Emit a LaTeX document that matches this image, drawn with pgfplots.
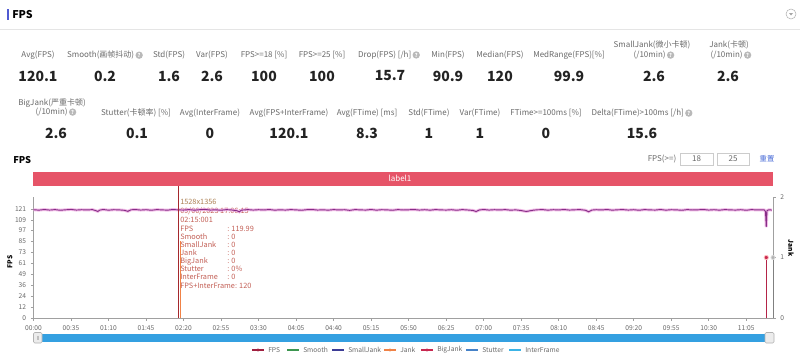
\documentclass[border=0pt]{standalone}
\usepackage{pgfplots}
\usepackage{pgfplotstable}
\pgfplotsset{compat=1.18}
\usepackage{fontspec}
\setmainfont{Noto Sans CJK SC}
\definecolor{lblgray}{RGB}{105,105,105}
\definecolor{valblack}{RGB}{35,35,35}
\definecolor{barred}{RGB}{230,84,104}
\definecolor{fpsline}{RGB}{135,45,135}
\definecolor{fpshalo}{RGB}{238,170,225}
\definecolor{scrollblue}{RGB}{52,160,225}
\definecolor{axgray}{RGB}{160,160,160}
\definecolor{tipred}{RGB}{195,95,85}
\definecolor{cursorred}{RGB}{165,40,45}
\definecolor{headblue}{RGB}{80,90,210}
\definecolor{linkblue}{RGB}{70,105,215}
\definecolor{smoothgreen}{RGB}{60,150,80}
\definecolor{smalljank}{RGB}{60,60,150}
\definecolor{jankorange}{RGB}{240,130,70}
\definecolor{bigjank}{RGB}{200,40,80}
\definecolor{stutter}{RGB}{70,130,200}
\definecolor{interframe}{RGB}{60,180,230}

\newcommand{\lab}[1]{{\fontsize{6}{7.5}\selectfont\color{lblgray}#1}}
\newcommand{\val}[1]{{\fontsize{10.5}{12}\selectfont\bfseries\color{valblack}#1}}
\newcommand{\qi}{\tikz[baseline=-0.55ex]\node[circle,fill=gray!55,inner sep=0pt,minimum size=5.5pt,text=white,font=\fontsize{4}{4}\selectfont\bfseries]{?};}

\pgfplotstableread{
t v
0 120.2
5 119.7
10 120.4
15 119.8
20 120.3
25 119.6
30 120.1
35 120.5
40 119.8
45 120.2
50 119.9
55 120.3
58 119.2
60 118.3
62 119.8
65 120.4
70 119.7
75 120.2
80 120.0
85 119.5
88 118.4
91 120.1
95 120.4
100 119.8
105 120.2
110 119.6
115 120.3
120 120.0
125 119.7
130 120.4
135 120.0
140 119.8
145 120.3
150 119.7
155 120.2
160 120.5
165 119.8
170 120.1
175 119.6
180 120.3
185 119.9
190 119.0
192 117.8
194 119.7
200 120.3
205 119.8
210 120.2
215 119.9
220 120.4
225 119.7
230 120.1
235 119.8
240 120.3
245 120.0
250 119.6
255 120.2
260 120.4
265 119.8
270 120.1
275 119.7
280 120.3
285 119.9
290 120.2
295 119.5
300 120.3
305 120.0
310 119.8
315 120.4
320 119.7
325 120.2
330 120.0
335 119.6
340 120.3
345 119.9
350 120.1
355 120.4
360 119.8
365 120.2
370 119.7
375 120.3
380 120.0
385 119.8
390 120.2
395 119.6
400 120.3
405 119.9
410 119.4
413 118.2
416 119.9
420 120.4
425 119.8
430 120.2
435 119.9
440 120.3
445 119.7
450 120.0
455 119.3
458 118.6
460 118.3
463 118.9
466 119.6
470 120.1
475 120.3
480 119.7
485 120.2
490 119.9
495 120.4
500 119.8
505 120.1
510 120.3
515 119.6
518 117.9
521 119.8
525 120.2
530 119.9
535 120.4
540 119.7
545 120.1
550 120.3
555 119.8
560 120.2
565 119.6
570 120.3
575 120.0
580 119.8
585 120.4
590 119.7
595 120.2
600 120.0
605 119.6
610 120.3
615 119.9
620 120.1
625 120.4
630 119.8
635 120.2
640 119.7
645 120.3
650 120.0
655 119.8
660 120.2
665 119.6
670 120.3
675 119.9
680 120.1
682 119.9
683 118.0
683.7 101.0
684.4 119.2
686 120.1
689 119.8
}\fpsdata

\begin{document}
\begin{tikzpicture}
\begin{scope}[x=0.75pt,y=-0.75pt]
\useasboundingbox (0,0) rectangle (800,357);
\fill[white] (0,0) rectangle (800,357);
% header
\fill[headblue] (7,9) rectangle (9,20);
\node[anchor=west,inner sep=0pt] at (12,14.5) {\fontsize{8}{9}\selectfont\bfseries FPS};
\draw[gray!20] (0,29.5) -- (800,29.5);
\draw[gray!60,line width=0.4pt] (791,14) circle (5);
\fill[gray!70] (789,13) -- (793,13) -- (791,15.5) -- cycle;
% stats row 1
\node at (38,55) {\lab{Avg(FPS)}};
\node at (38,76) {\val{120.1}};
\node at (105,55) {\lab{Smooth(画帧抖动)\,\qi}};
\node at (105,76) {\val{0.2}};
\node at (169,55) {\lab{Std(FPS)}};
\node at (169,76) {\val{1.6}};
\node at (212,55) {\lab{Var(FPS)}};
\node at (212,76) {\val{2.6}};
\node at (264,55) {\lab{FPS>=18 [\%]}};
\node at (264,76) {\val{100}};
\node at (322,55) {\lab{FPS>=25 [\%]}};
\node at (322,76) {\val{100}};
\node at (389,55) {\lab{Drop(FPS) [/h]\,\qi}};
\node at (390,76) {\val{15.7}};
\node at (448,55) {\lab{Min(FPS)}};
\node at (448,76) {\val{90.9}};
\node at (500,55) {\lab{Median(FPS)}};
\node at (500,76) {\val{120}};
\node at (569,55) {\lab{MedRange(FPS)[\%]}};
\node at (569,76) {\val{99.9}};
\node at (652,45) {\lab{SmallJank(微小卡顿)}};
\node at (654,55) {\lab{(/10min)\,\qi}};
\node at (654,76) {\val{2.6}};
\node at (729,45) {\lab{Jank(卡顿)}};
\node at (731,55) {\lab{(/10min)\,\qi}};
\node at (728,76) {\val{2.6}};
% stats row 2
\node at (52,103) {\lab{BigJank(严重卡顿)}};
\node at (56,112) {\lab{(/10min)\,\qi}};
\node at (56,133) {\val{2.6}};
\node at (136,113) {\lab{Stutter(卡顿率) [\%]}};
\node at (137,133) {\val{0.1}};
\node at (210,113) {\lab{Avg(InterFrame)}};
\node at (210,133) {\val{0}};
\node at (289,113) {\lab{Avg(FPS+InterFrame)}};
\node at (289,133) {\val{120.1}};
\node at (367,113) {\lab{Avg(FTime) [ms]}};
\node at (367,133) {\val{8.3}};
\node at (429,113) {\lab{Std(FTime)}};
\node at (429,133) {\val{1}};
\node at (480,113) {\lab{Var(FTime)}};
\node at (480,133) {\val{1}};
\node at (546,113) {\lab{FTime>=100ms [\%]}};
\node at (546,133) {\val{0}};
\node at (642,113) {\lab{Delta(FTime)>100ms [/h]\,\qi}};
\node at (642,133) {\val{15.6}};
% chart header
\node[anchor=west,inner sep=0pt] at (13,160) {\fontsize{7}{8}\selectfont\bfseries FPS};
\node at (662,159) {\lab{FPS(>=)}};
\draw[gray!40,fill=white] (680,153) rectangle (713,165);
\node at (696.5,159) {\lab{18}};
\draw[gray!40,fill=white] (717,153) rectangle (749,165);
\node at (733,159) {\lab{25}};
\node at (767,158.5) {\fontsize{5.5}{6.5}\selectfont\color{linkblue}重置};
% label bar
\fill[barred] (33,172) rectangle (773,185.5);
\node at (400,178.8) {\fontsize{6}{7}\selectfont\color{white}label1};
% axis titles
\node[rotate=90] at (10,262) {\fontsize{5}{6}\selectfont\bfseries FPS};
\node[rotate=-90] at (791,248) {\fontsize{5}{6}\selectfont\bfseries Jank};
% tooltip
\begin{scope}[every node/.style={anchor=west,inner sep=0pt,font=\fontsize{5.5}{6.5}\selectfont}]
\node[text=brown!70!gray] at (180,202) {1528x1356};
\node[text=tipred] at (180,211) {09/06/2023 17:06:15};
\node[text=tipred] at (180,220) {02:15:001};
\node[text=tipred] at (180,229) {FPS};
\node[text=tipred] at (227,229) {: 119.99};
\node[text=tipred] at (180,237) {Smooth};
\node[text=tipred] at (227,237) {: 0};
\node[text=tipred] at (180,245) {SmallJank};
\node[text=tipred] at (227,245) {: 0};
\node[text=tipred] at (180,253) {Jank};
\node[text=tipred] at (227,253) {: 0};
\node[text=tipred] at (180,261) {BigJank};
\node[text=tipred] at (227,261) {: 0};
\node[text=tipred] at (180,269) {Stutter};
\node[text=tipred] at (227,269) {: 0\%};
\node[text=tipred] at (180,277) {InterFrame};
\node[text=tipred] at (227,277) {: 0};
\node[text=tipred] at (180,286) {FPS+InterFrame: 120};
\end{scope}
% scrollbar
\fill[scrollblue] (36,334) rectangle (773,341.5);
\draw[gray!60,fill=gray!15,rounded corners=1pt] (33.5,332.5) rectangle (42,343);
\draw[gray!50] (36.8,335.5) -- (36.8,340) (38.7,335.5) -- (38.7,340);
\draw[gray!60,fill=gray!15,rounded corners=1pt] (765,332.5) rectangle (774,343);
% legend
\begin{scope}[every node/.style={anchor=west,inner sep=0pt,font=\fontsize{5}{6}\selectfont,text=lblgray}]
\draw[bigjank!80!black,line width=0.9pt] (252,350) -- (264,350); \fill[bigjank!80!black] (258,350) circle (1.6);
\node at (268,350) {FPS};
\draw[smoothgreen,line width=0.9pt] (287,350) -- (299,350);
\node at (303,350) {Smooth};
\draw[smalljank,line width=0.9pt] (332,350) -- (344,350);
\node at (348,350) {SmallJank};
\draw[jankorange,line width=0.9pt] (384,350) -- (396,350); \fill[jankorange] (390,350) circle (1.6);
\node at (400,350) {Jank};
\draw[bigjank,line width=0.9pt] (421,350) -- (433,350); \fill[bigjank] (427,350) circle (1.6);
\node at (437,350) {BigJank};
\draw[stutter,line width=0.9pt] (466,350) -- (478,350);
\node at (482,350) {Stutter};
\draw[interframe,line width=0.9pt] (509,350) -- (521,350);
\node at (525,350) {InterFrame};
\end{scope}
\end{scope}

% main FPS axis
\begin{axis}[
  scale only axis,
  width=554.625pt, height=90.75pt,
  at={(25.125pt,-238.5pt)}, anchor=south west,
  xmin=0, xmax=690, ymin=0, ymax=134.3,
  axis y line*=left, axis x line*=bottom,
  axis line style={axgray, line width=0.6pt},
  tick align=outside, major tick length=2pt,
  tick style={axgray, line width=0.4pt},
  xtick={0,35,70,105,140,175,210,245,280,315,350,385,420,455,490,525,560,595,630,665},
  xticklabels={00:00,00:35,01:10,01:45,02:20,02:55,03:30,04:05,04:40,05:15,05:50,06:25,07:00,07:35,08:10,08:45,09:20,09:55,10:30,11:05},
  ytick={0,12,24,36,49,61,73,85,97,109,121},
  yticklabels={0,12,24,36,49,61,73,85,97,109,121},
  ticklabel style={font=\fontsize{5}{6}\selectfont, text=lblgray},
  /pgf/number format/assume math mode=true,
  clip=false,
]
\addplot[fpshalo, line width=2.2pt, opacity=0.8] table[x=t,y=v] {\fpsdata};
\addplot[fpsline, line width=0.7pt] table[x=t,y=v] {\fpsdata};
\draw[cursorred, line width=0.7pt] (axis cs:135,0) -- (axis cs:135,146.5);
\draw[jankorange, line width=0.4pt] (axis cs:136.5,0) -- (axis cs:136.5,85);
\end{axis}

% Jank axis (right)
\begin{axis}[
  scale only axis,
  width=554.625pt, height=90.75pt,
  at={(25.125pt,-238.5pt)}, anchor=south west,
  xmin=0, xmax=690, ymin=0, ymax=2,
  axis y line*=right, axis x line=none,
  axis line style={axgray, line width=0.6pt},
  tick align=outside, major tick length=2pt,
  tick style={axgray, line width=0.4pt},
  ytick={0,1,2}, yticklabels={0,1,2},
  ticklabel style={font=\fontsize{5}{6}\selectfont, text=lblgray},
  clip=false,
]
\addplot[ycomb, bigjank!90!black, line width=0.6pt, mark=*, mark size=1.6pt, mark options={fill=bigjank, draw=pink}] coordinates {(683.7,1)};
\addplot[ycomb, gray, line width=0.6pt, mark=*, mark size=1.5pt, mark options={fill=gray!60, draw=gray!30}] coordinates {(690,1)};
\end{axis}
\end{tikzpicture}
\end{document}
